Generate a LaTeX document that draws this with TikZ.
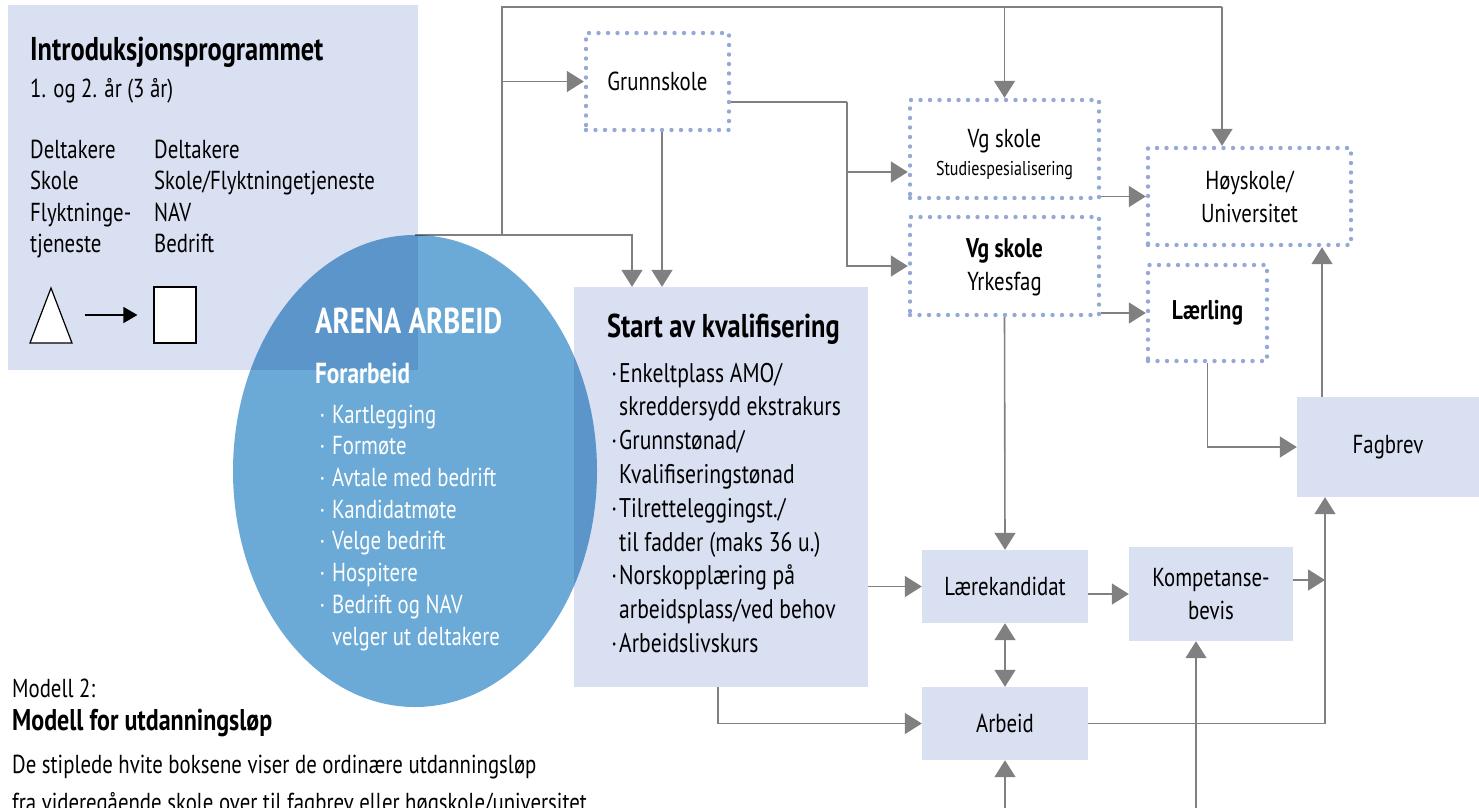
\documentclass[tikz,border=0pt]{standalone}
\usepackage{fontspec}
\setmainfont{PT Sans}[FakeStretch=0.8]
\usetikzlibrary{arrows.meta}

\definecolor{boxblue}{RGB}{217,224,241}
\definecolor{arenablue}{RGB}{107,170,214}
\definecolor{dotblue}{RGB}{148,170,214}
\definecolor{linegray}{RGB}{128,128,128}
\newcommand\fs[2]{\fontsize{#1}{#2}\selectfont}
\newcommand\sbul{\llap{\textperiodcentered\hspace{2pt}}}
\newcommand\abul{\llap{\textperiodcentered\hspace{7pt}}}

\begin{document}
\begin{tikzpicture}[x=1pt, y=-1pt,
    every node/.style={inner sep=0pt, font=\fs{26}{31}},
    solidbox/.style={fill=boxblue},
    dotbox/.style={draw=dotblue, line width=4.4pt, line cap=round,
      dash pattern=on 0pt off 9.5pt, fill=white},
    conn/.style={draw=linegray, line width=1.6pt,
      -{Triangle[length=17pt, width=21pt]}},
    wire/.style={draw=linegray, line width=1.6pt}]
  \useasboundingbox (0,0) rectangle (1479,807);

  % introduksjonsprogrammet
  \node[solidbox, minimum width=410, minimum height=365] (intro) at (213,187.5) {};
  \node[anchor=base west, font=\fs{33}{38}\bfseries] (introtitle) at (30,60) {Introduksjonsprogrammet};
  \node[anchor=base west] (introyear) at (30,97) {1. og 2. år (3 år)};
  \foreach \txt [count=\i] in {Deltakere, Skole, Flyktninge-, tjeneste}
    \node[anchor=base west] (colA-\i) at (30,158+31.5*\i-31.5) {\txt};
  \foreach \txt [count=\i] in {Deltakere, Skole/Flyktningetjeneste, NAV, Bedrift}
    \node[anchor=base west] (colB-\i) at (154,158+31.5*\i-31.5) {\txt};
  \draw[fill=white, line width=1.2pt] (30,343) -- (72,343) -- (51,288) -- cycle;
  \coordinate (tri) at (85,315);
  \node[draw, fill=white, line width=1.2pt, minimum width=42, minimum height=56] (square) at (175,315) {};
  \draw[line width=1.6pt, -{Triangle[length=14pt, width=16pt]}] (tri) -- ([xshift=-16pt]square.west);

  % connectors
  \coordinate (arenatop) at (415,235);
  \coordinate (jleft) at (502,235);
  \coordinate (jtop) at (502,7);
  \coordinate (jgrunn) at (847,102);
  \coordinate (jright) at (1325,580);

  \node[solidbox, minimum width=294, minimum height=400] (start) at (721,487) {};
  \node[dotbox, minimum width=143, minimum height=97] (grunn) at (657.5,81.5) {Grunnskole};
  \node[dotbox, minimum width=189, minimum height=98] (vgstud) at (1004.5,149) {};
  \node[dotbox, minimum width=189, minimum height=98] (vgyrk) at (1004.5,266) {};
  \node[dotbox, minimum width=203, minimum height=97, align=center, font=\fs{26}{33}] (hoy) at (1249.5,196.5)
    {Høyskole/\\Universitet};
  \node[dotbox, minimum width=119, minimum height=96, font=\fs{27}{31}\bfseries] (laer) at (1207.5,313) {Lærling};
  \node[solidbox, minimum width=182, minimum height=100] (fag) at (1388,447) {Fagbrev};
  \node[solidbox, minimum width=166, minimum height=73] (lkand) at (1005,586.5) {Lærekandidat};
  \node[solidbox, minimum width=164, minimum height=94, align=center, font=\fs{26}{33}] (komp) at (1211,594)
    {Kompetanse-\\bevis};
  \node[solidbox, minimum width=166, minimum height=73] (arb) at (1005,723.5) {Arbeid};

  \node[anchor=base] (studA) at (1004.5,147) {Vg skole};
  \node[anchor=base, font=\fs{20}{22}] (studB) at (1004.5,175) {Studiespesialisering};
  \node[anchor=base, font=\fs{27}{31}\bfseries] (yrkA) at (1004.5,257) {Vg skole};
  \node[anchor=base] (yrkB) at (1004.5,290) {Yrkesfag};

  \draw[wire] (arenatop) -- (jleft);
  \draw[conn] (jleft) -| ([xshift=-89pt]start.north);
  \draw[wire] (jleft) -- (jtop) -- (1222,7);
  \draw[conn] (1222,7) -- (1222,0 |- hoy.north);
  \draw[conn] (vgstud.north |- jtop) -- (vgstud.north);
  \draw[conn] (jtop |- grunn.west) -- (grunn.west);
  \draw[conn] ([xshift=4.5pt]grunn.south) -- ([xshift=4.5pt]grunn.south |- start.north);
  \draw[wire] (grunn.east |- jgrunn) -- (jgrunn);
  \draw[conn] (jgrunn) |- ([yshift=-23pt]vgstud.west);
  \draw[conn] (jgrunn) |- (vgyrk.west);
  \draw[conn] (vgstud.east |- hoy.west) -- (hoy.west);
  \draw[conn] (vgyrk.east |- laer.west) -- (laer.west);
  \draw[conn] (vgyrk.south) -- (lkand.north);
  \draw[conn] (laer.south) |- (fag.west);
  \draw[conn] ([xshift=-66pt]fag.north) -- ([xshift=-66pt]fag.north |- hoy.south);
  \draw[conn] (start.east |- lkand.west) -- (lkand.west);
  \draw[conn] (lkand.east |- komp.west) -- (komp.west);
  \draw[conn, {Triangle[length=17pt, width=21pt]}-{Triangle[length=17pt, width=21pt]}] (lkand.south) -- (arb.north);
  \draw[conn] ([xshift=-3pt]start.south) |- (arb.west);
  \draw[conn] (arb.east) -| ([xshift=-63pt]fag.south);
  \draw[conn] (komp.east |- jright) -- (jright);
  \draw[conn] (arb.south |- 0,815) -- (arb.south);
  \draw[conn] ([xshift=-15pt]komp.south |- 0,815) -- ([xshift=-15pt]komp.south);

  % arena arbeid
  \begin{scope}[blend mode=multiply]
    \fill[arenablue] (415,471) ellipse [x radius=182, y radius=236];
  \end{scope}
  \node[anchor=base west, text=white, font=\fs{36}{40}\bfseries] (arena) at (315,333) {ARENA ARBEID};
  \node[anchor=base west, text=white, font=\fs{29}{34}\bfseries] (forarb) at (315,383) {Forarbeid};
  \foreach \txt [count=\i] in {Kartlegging, Formøte, Avtale med bedrift, Kandidatmøte,
      Velge bedrift, Hospitere, Bedrift og NAV}
    \node[anchor=base west, text=white] (arenaitem-\i) at (332,423+31.7*\i-31.7) {\abul\txt};
  \node[anchor=base west, text=white] (arenaitem-8) at (332,645) {velger ut deltakere};

  % start av kvalifisering
  \node[anchor=base west, font=\fs{33}{38}\bfseries] (starttitle) at (607,337) {Start av kvalifisering};
  \foreach \txt [count=\i] in {{\sbul Enkeltplass AMO/}, {skreddersydd ekstrakurs}, {\sbul Grunnstønad/},
      {Kvalifiseringstønad}, {\sbul Tilretteleggingst./}, {til fadder (maks 36 u.)},
      {\sbul Norskopplæring på}, {arbeidsplass/ved behov}, {\sbul Arbeidslivskurs}}
    \node[anchor=base west, font=\fs{27}{33}] (startitem-\i) at (619,382+33.8*\i-33.8) {\txt};

  % modell
  \node[anchor=base west] (modnum) at (12,697) {Modell 2:};
  \node[anchor=base west, font=\fs{30}{34}\bfseries] (modtitle) at (12,730) {Modell for utdanningsløp};
  \node[anchor=base west] (modtextA) at (12,773) {De stiplede hvite boksene viser de ordinære utdanningsløp};
  \node[anchor=base west] (modtextB) at (12,811) {fra videregående skole over til fagbrev eller høgskole/universitet};
\end{tikzpicture}
\end{document}
